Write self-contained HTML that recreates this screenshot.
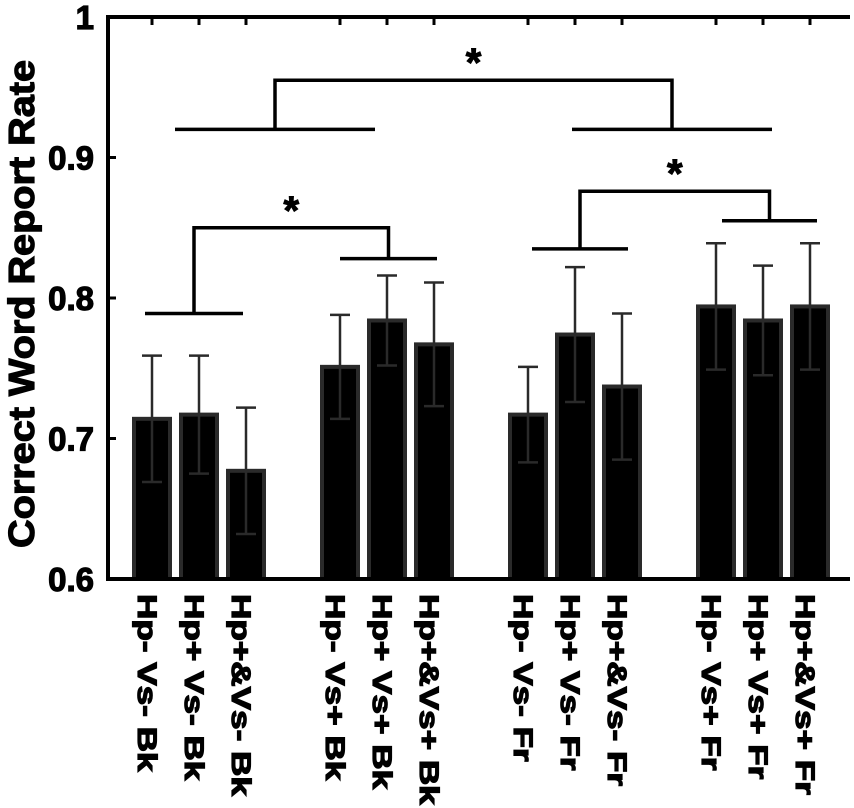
<!DOCTYPE html>
<html><head><meta charset="utf-8"><style>
body{margin:0;background:#fff}
svg{display:block;font-family:"Liberation Sans",Arial,sans-serif;font-weight:bold}
</style></head><body>
<svg id="chart" width="854" height="808" viewBox="0 0 854 808" xmlns="http://www.w3.org/2000/svg">
<g id="marks"></g>
</svg>
<script>
const categories=["Hp- Vs- Bk","Hp+ Vs- Bk","Hp+&Vs- Bk","Hp- Vs+ Bk","Hp+ Vs+ Bk","Hp+&Vs+ Bk","Hp- Vs- Fr","Hp+ Vs- Fr","Hp+&Vs- Fr","Hp- Vs+ Fr","Hp+ Vs+ Fr","Hp+&Vs+ Fr"];
const values=[0.714,0.717,0.677,0.751,0.784,0.767,0.717,0.774,0.737,0.794,0.784,0.794];
const errors=[0.045,0.042,0.045,0.037,0.032,0.044,0.034,0.048,0.052,0.045,0.039,0.045];
const yTicks=[0.6,0.7,0.8,0.9,1];
const yTickLabels=["0.6","0.7","0.8","0.9","1"];
const NS="http://www.w3.org/2000/svg";
const g=document.getElementById('marks');
const x0=108,x1=850,yB=579,yT=17;
const y=v=>yB-(v-0.6)/0.4*(yB-yT);
const slots=[0,1,2,4,5,6,8,9,10,12,13,14];
const xc=i=>152+slots[i]*47;
function el(tag,attrs,parent){const e=document.createElementNS(NS,tag);for(const k in attrs)e.setAttribute(k,attrs[k]);(parent||g).appendChild(e);return e;}
// bars
categories.forEach((c,i)=>{
  const cx=xc(i);
  const b=el('rect',{x:cx-18,y:y(values[i]),width:36,height:yB-y(values[i]),fill:'#000',stroke:'#2a2a2a','stroke-width':4});
  
  
  const e=el('path',{d:`M${cx},${y(values[i]+errors[i])}V${y(values[i]-errors[i])}M${cx-10},${y(values[i]+errors[i])}h20M${cx-10},${y(values[i]-errors[i])}h20`,stroke:'#2a2a2a','stroke-width':2.5,fill:'none'});
  
  
  const tt=el('line',{x1:cx,x2:cx,y1:yT,y2:yT+8,stroke:'#000','stroke-width':3});
  
  
  const t=el('text',{transform:`translate(${cx-14},594) rotate(90)`,'font-size':27,stroke:'#000','stroke-width':1.2});
  t.textContent=c;
  
  
  t.setAttribute('textLength',(t.getComputedTextLength()*1.3).toFixed(1));
  t.setAttribute('lengthAdjust','spacingAndGlyphs');
});
// axes
const ax=el('path',{d:`M${x1},${yT}H${x0}V${yB}H${x1}`,stroke:'#000','stroke-width':4,fill:'none'});


yTicks.forEach((v,i)=>{
  const tk=el('line',{x1:x0,x2:x0+8,y1:y(v),y2:y(v),stroke:'#000','stroke-width':3});
  
  
  const t=el('text',{x:94,y:y(v)+12,'text-anchor':'end','font-size':33,stroke:'#000','stroke-width':1.2});
  t.textContent=yTickLabels[i];
  
  
});
const yt=el('text',{transform:'translate(34,304) rotate(-90)','text-anchor':'middle','font-size':36,stroke:'#000','stroke-width':1.2});
yt.textContent='Correct Word Report Rate';


yt.setAttribute('textLength','488');
yt.setAttribute('lengthAdjust','spacingAndGlyphs');
// significance brackets
function bracket(name,l1,l2,top){
  const m1=(l1[0]+l1[1])/2,m2=(l2[0]+l2[1])/2;
  const p=el('path',{d:`M${l1[0]},${y(l1[2])}H${l1[1]}M${m1},${y(l1[2])}V${y(top)}H${m2}V${y(l2[2])}M${l2[0]},${y(l2[2])}H${l2[1]}`,stroke:'#000','stroke-width':3.5,fill:'none'});
  
  
  const s=el('text',{x:(m1+m2)/2,y:y(top)-4,'text-anchor':'middle','font-size':40,stroke:'#000','stroke-width':1});
  s.textContent='*';
  
  
}
bracket('bracket-bk',[145,243,0.789],[340,437,0.828],0.85);
bracket('bracket-fr',[532,628,0.835],[722,817,0.855],0.876);
bracket('bracket-top',[175,375,0.92],[572,772,0.92],0.955);
</script>
</body></html>
